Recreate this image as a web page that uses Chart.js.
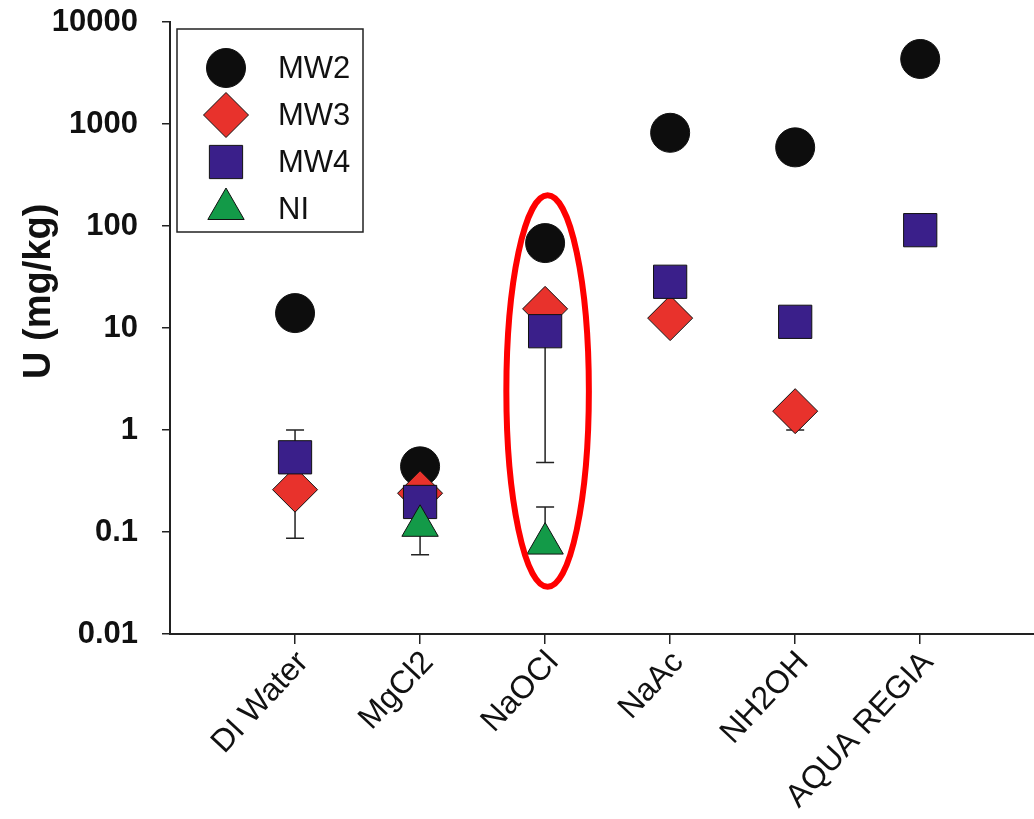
<!DOCTYPE html>
<html lang="en">
<head>
  <meta charset="UTF-8" />
  <title>U (mg/kg) by extraction step</title>
  <script src="https://cdn.jsdelivr.net/npm/chart.js"></script>
  <style>
    body {
      margin: 0;
      background-color: #ffffff;
    }
    #wrap {
      width: 1034px;
      height: 819px;
    }
  </style>
</head>
<body>
  <div id="wrap"><canvas id="uChart" width="1034" height="819"></canvas></div>

  <script>
    // extraction steps (x categories)
    const categories = ["DI Water", "MgCl2", "NaOCl", "NaAc", "NH2OH", "AQUA REGIA"];

    // U concentrations (null = no marker)
    const mw2 = [14, 0.44, 68, 820, 590, 4340];
    const mw3 = [0.26, 0.24, 15.4, 12.5, 1.53, null];
    const mw4 = [0.54, 0.197, 9.3, 28.4, 11.5, 91];
    const ni  = [null, 0.115, 0.077, null, null, null];

    // visible error bar ends (null = none shown)
    const mw3ErrLow  = [0.087, null, null, null, 1.0, null];
    const mw3ErrHigh = [null, null, null, null, null, null];
    const mw4ErrLow  = [null, null, 0.48, null, null, null];
    const mw4ErrHigh = [1.0, null, null, null, null, null];
    const niErrLow   = [null, 0.06, null, null, null, null];
    const niErrHigh  = [null, null, 0.176, null, null, null];

    const yTicks = [0.01, 0.1, 1, 10, 100, 1000, 10000];
    const yTickLabels = ["0.01", "0.1", "1", "10", "100", "1000", "10000"];
    const yTitle = "U (mg/kg)";

    function toPoints(vals) {
      return vals.map((v, i) => (v == null ? null : { x: i + 1, y: v })).filter(p => p);
    }

    const series = [
      { label: "MW2", vals: mw2, style: "circle",   color: "#0d0d0d", r: 19.5, order: 4, lo: null, hi: null },
      { label: "MW3", vals: mw3, style: "rectRot",  color: "#e8322c", r: 22.5, order: 3, lo: mw3ErrLow, hi: mw3ErrHigh },
      { label: "MW4", vals: mw4, style: "rect",     color: "#3a1f8a", r: 23.5, order: 2, lo: mw4ErrLow, hi: mw4ErrHigh },
      { label: "NI",  vals: ni,  style: "triangle", color: "#139a48", r: 21,   order: 1, lo: niErrLow, hi: niErrHigh }
    ];

    // error bars, drawn behind the markers
    const errorBars = {
      id: "errorBars",
      beforeDatasetsDraw(chart) {
        const ctx = chart.ctx;
        const xs = chart.scales.x, ys = chart.scales.y;
        ctx.save();
        ctx.strokeStyle = "#222";
        ctx.lineWidth = 1.5;
        series.forEach(s => {
          s.vals.forEach((v, i) => {
            if (v == null) return;
            const px = xs.getPixelForValue(i + 1);
            const py = ys.getPixelForValue(v);
            [s.lo && s.lo[i], s.hi && s.hi[i]].forEach(end => {
              if (end == null) return;
              const ey = ys.getPixelForValue(end);
              ctx.beginPath();
              ctx.moveTo(px, py);
              ctx.lineTo(px, ey);
              ctx.moveTo(px - 9, ey);
              ctx.lineTo(px + 9, ey);
              ctx.stroke();
            });
          });
        });
        ctx.restore();
      }
    };

    // red ellipse highlighting NaOCl
    const highlight = {
      id: "highlight",
      afterDatasetsDraw(chart) {
        const ctx = chart.ctx;
        const xs = chart.scales.x, ys = chart.scales.y;
        const cx = xs.getPixelForValue(3.02);
        const rx = xs.getPixelForValue(3.35) - cx;
        const top = ys.getPixelForValue(200);
        const bottom = ys.getPixelForValue(0.029);
        ctx.save();
        ctx.strokeStyle = "#ff0000";
        ctx.lineWidth = 6;
        ctx.beginPath();
        ctx.ellipse(cx, (top + bottom) / 2, rx, (bottom - top) / 2, 0, 0, Math.PI * 2);
        ctx.stroke();
        ctx.restore();
      }
    };

    // boxed legend in the upper left corner + y axis title
    const boxLegend = {
      id: "boxLegend",
      afterDraw(chart) {
        const ctx = chart.ctx;
        const area = chart.chartArea;
        const left = area.left + 7, top = area.top + 7;
        ctx.save();
        ctx.fillStyle = "#ffffff";
        ctx.fillRect(left, top, 186, 203);
        ctx.strokeStyle = "#222";
        ctx.lineWidth = 1.5;
        ctx.strokeRect(left, top, 186, 203);
        ctx.font = "31px 'Liberation Sans', Arial, sans-serif";
        ctx.textBaseline = "middle";
        chart.data.datasets.forEach((ds, i) => {
          const y = top + 39 + i * 47;
          ctx.fillStyle = ds.backgroundColor;
          ctx.strokeStyle = "#111";
          ctx.lineWidth = 1;
          Chart.helpers.drawPoint(ctx, {
            pointStyle: ds.pointStyle,
            radius: ds.pointRadius,
            borderWidth: 1
          }, left + 49, y);
          ctx.fillStyle = "#111";
          ctx.fillText(ds.label, left + 101, y + 1);
        });

        // axis title, sits a bit above the middle of the axis
        ctx.translate(40, area.top + (area.bottom - area.top) * 0.44);
        ctx.rotate(-Math.PI / 2);
        ctx.textAlign = "center";
        ctx.font = "bold 38px 'Liberation Sans', Arial, sans-serif";
        ctx.fillText(yTitle, 0, 0);
        ctx.restore();
      }
    };

    new Chart(document.getElementById("uChart"), {
      type: "scatter",
      data: {
        datasets: series.map(s => ({
          label: s.label,
          data: toPoints(s.vals),
          pointStyle: s.style,
          pointRadius: s.r,
          pointHoverRadius: s.r,
          backgroundColor: s.color,
          borderColor: "#111",
          borderWidth: 1,
          order: s.order
        }))
      },
      options: {
        responsive: false,
        animation: false,
        layout: { autoPadding: false, padding: { top: 22, right: 0, left: 0, bottom: 0 } },
        plugins: {
          legend: { display: false },
          tooltip: { enabled: false }
        },
        scales: {
          x: {
            type: "linear",
            min: 0,
            max: 6.91,
            afterBuildTicks: scale => {
              scale.ticks = categories.map((c, i) => ({ value: i + 1 }));
            },
            afterFit: scale => {
              scale.height = 185;
              scale.paddingLeft = 0;
              scale.paddingRight = 0;
            },
            ticks: {
              autoSkip: false,
              minRotation: 47,
              maxRotation: 47,
              padding: 0,
              labelOffset: 8,
              color: "#111",
              font: { family: "'Liberation Sans', Arial, sans-serif", size: 32 },
              callback: v => categories[v - 1]
            },
            grid: {
              drawOnChartArea: false,
              drawTicks: true,
              tickLength: 10,
              color: "#222",
              lineWidth: 1.5
            },
            border: { display: true, color: "#222", width: 2 }
          },
          y: {
            type: "logarithmic",
            min: 0.01,
            max: 10000,
            afterBuildTicks: scale => {
              scale.ticks = yTicks.map(v => ({ value: v }));
            },
            afterFit: scale => {
              scale.width = 170;
              scale.paddingTop = 0;
              scale.paddingBottom = 0;
            },
            ticks: {
              padding: 24,
              color: "#111",
              font: { family: "'Liberation Sans', Arial, sans-serif", size: 31, weight: "bold" },
              callback: (v, i) => yTickLabels[i]
            },
            grid: {
              drawOnChartArea: false,
              drawTicks: true,
              tickLength: 8,
              color: "#222",
              lineWidth: 1.5
            },
            border: { display: true, color: "#222", width: 2 }
          }
        }
      },
      plugins: [errorBars, highlight, boxLegend]
    });
  </script>
</body>
</html>
